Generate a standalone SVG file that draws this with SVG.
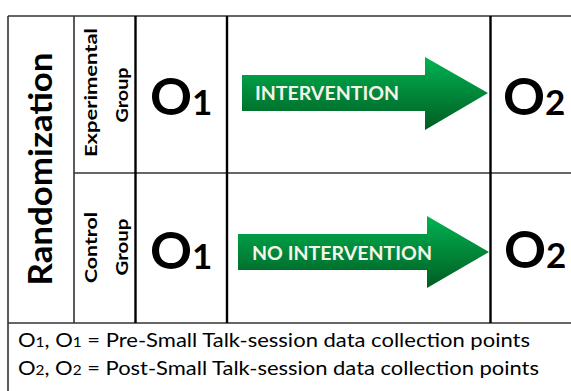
<svg xmlns="http://www.w3.org/2000/svg" width="571" height="391" viewBox="0 0 571 391">
<defs>
<linearGradient id="g" x1="0" y1="0" x2="0" y2="1">
<stop offset="0" stop-color="#00b352"/>
<stop offset="1" stop-color="#005c22"/>
</linearGradient>
<style>
.thin{stroke:#333;stroke-width:1.6;fill:none}
.thick{stroke:#000;stroke-width:2.4;fill:none}
.big{font-family:Lato,"Liberation Sans",sans-serif;font-weight:bold;fill:#000}
.side{font-family:Lato,"Liberation Sans",sans-serif;font-weight:bold;fill:#000}
.arrtxt{font-family:Lato,"Liberation Sans",sans-serif;font-weight:bold;fill:#f4f4e8;font-size:19px}
.leg{font-family:Lato,"Liberation Sans",sans-serif;font-size:20px;fill:#000}
</style>
</defs>
<rect width="571" height="391" fill="#fff"/>
<g id="grid">
<line class="thin" x1="8" y1="16" x2="571" y2="16"/>
<line class="thin" x1="8" y1="16" x2="8" y2="391"/>
<line class="thin" x1="74" y1="16" x2="74" y2="323"/>
<line class="thin" x1="74" y1="173" x2="571" y2="173"/>
<line class="thin" x1="8" y1="323" x2="571" y2="323"/>
<line class="thick" x1="135.5" y1="16" x2="135.5" y2="323"/>
<line class="thick" x1="227" y1="16" x2="227" y2="323"/>
<line class="thick" x1="490.5" y1="16" x2="490.5" y2="323"/>
</g>
<g id="randomization">
<text class="side" font-size="32" text-anchor="middle" transform="translate(52,169) rotate(-90)" textLength="233" lengthAdjust="spacingAndGlyphs">Randomization</text>
</g>
<g id="experimental">
<text class="side" font-size="17" text-anchor="middle" transform="translate(97,92.5) rotate(-90)" textLength="129" lengthAdjust="spacingAndGlyphs">Experimental</text>
<text class="side" font-size="17" text-anchor="middle" transform="translate(128,95) rotate(-90)" textLength="55" lengthAdjust="spacingAndGlyphs">Group</text>
</g>
<g id="control">
<text class="side" font-size="17" text-anchor="middle" transform="translate(97,247.5) rotate(-90)" textLength="71" lengthAdjust="spacingAndGlyphs">Control</text>
<text class="side" font-size="17" text-anchor="middle" transform="translate(128,247) rotate(-90)" textLength="57" lengthAdjust="spacingAndGlyphs">Group</text>
</g>
<g id="o1-top"><text class="big" x="150" y="115" font-size="52">O<tspan font-size="35">1</tspan></text></g>
<g id="o2-top"><text class="big" x="503" y="115" font-size="52">O<tspan font-size="35">2</tspan></text></g>
<g id="o1-bottom"><text class="big" x="150" y="269" font-size="52">O<tspan font-size="35">1</tspan></text></g>
<g id="o2-bottom"><text class="big" x="504" y="268" font-size="52">O<tspan font-size="35">2</tspan></text></g>
<g id="arrow-intervention">
<polygon points="242,75 425,75 425,57 488,93 425,130 425,111 242,111" fill="url(#g)"/>
<text class="arrtxt" x="255" y="100" textLength="144" lengthAdjust="spacingAndGlyphs">INTERVENTION</text>
</g>
<g id="arrow-no-intervention">
<polygon points="238,234 427,234 427,216 489,252 427,288 427,270 238,270" fill="url(#g)"/>
<text class="arrtxt" x="252" y="260" textLength="180" lengthAdjust="spacingAndGlyphs">NO INTERVENTION</text>
</g>
<g id="legend">
<text class="leg" x="18" y="347" textLength="512" lengthAdjust="spacingAndGlyphs">O<tspan font-size="14">1</tspan>, O<tspan font-size="14">1</tspan> = Pre-Small Talk-session data collection points</text>
<text class="leg" x="18" y="375" textLength="521" lengthAdjust="spacingAndGlyphs">O<tspan font-size="14">2</tspan>, O<tspan font-size="14">2</tspan> = Post-Small Talk-session data collection points</text>
</g>
</svg>
